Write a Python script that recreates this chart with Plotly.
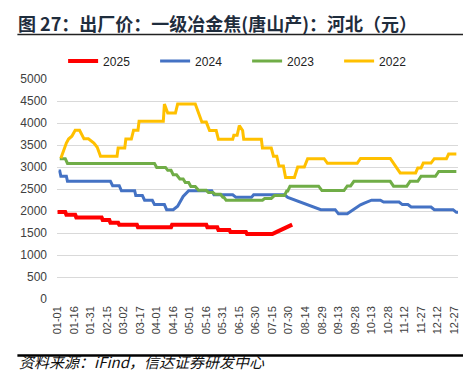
import plotly.graph_objects as go

# ---------------- data (day-of-year index, price in yuan) ----------------
tick_labels = ["01-01", "01-16", "01-31", "02-15", "03-02", "03-17", "04-01", "04-16",
               "05-01", "05-16", "05-31", "06-15", "06-30", "07-15", "07-30", "08-14",
               "08-29", "09-13", "09-28", "10-13", "10-28", "11-12", "11-27", "12-12", "12-27"]
tick_days = [0, 15, 30, 45, 60, 75, 90, 105, 120, 135, 150, 165, 180, 195, 210, 225,
             240, 255, 270, 285, 300, 315, 330, 345, 360]

pts_2025 = [(0, 1975), (7, 1975), (8, 1915), (16, 1915), (17, 1855), (40, 1855), (41, 1795),
            (47, 1795), (48, 1735), (55, 1735), (56, 1690), (72, 1690), (73, 1630), (103, 1630),
            (104, 1690), (135, 1690), (136, 1630), (145, 1630), (146, 1570), (156, 1570),
            (157, 1520), (171, 1520), (172, 1475), (195, 1475), (199, 1525), (203, 1575),
            (207, 1630), (211, 1690), (213, 1690)]

pts_2024 = [(1, 2910), (2, 2910), (3, 2790), (8, 2790), (9, 2675), (48, 2675), (50, 2575),
            (56, 2575), (58, 2460), (70, 2460), (71, 2350), (77, 2350), (79, 2245), (86, 2245),
            (88, 2145), (97, 2145), (99, 2030), (105, 2030), (109, 2110), (114, 2330),
            (119, 2460), (140, 2460), (142, 2370), (159, 2370), (162, 2310), (176, 2310),
            (178, 2370), (206, 2370), (209, 2310), (215, 2255), (222, 2180), (231, 2105),
            (239, 2030), (252, 2030), (255, 1935), (263, 1935), (266, 1990), (271, 2070),
            (275, 2140), (279, 2185), (285, 2245), (293, 2245), (296, 2205), (310, 2205),
            (313, 2145), (318, 2145), (321, 2090), (339, 2090), (342, 2030), (359, 2030),
            (362, 1970), (364, 1970)]

pts_2023 = [(2, 3190), (7, 3190), (9, 3080), (88, 3080), (90, 2990), (98, 2990), (100, 2925),
            (103, 2925), (105, 2825), (108, 2825), (111, 2730), (114, 2730), (116, 2645),
            (119, 2645), (121, 2555), (125, 2555), (128, 2470), (135, 2470), (137, 2420),
            (141, 2420), (143, 2380), (148, 2380), (150, 2310), (151, 2310), (153, 2245),
            (186, 2245), (188, 2285), (194, 2285), (197, 2355), (206, 2355), (208, 2455),
            (209, 2455), (211, 2565), (237, 2565), (240, 2465), (260, 2465), (263, 2570),
            (266, 2570), (269, 2675), (302, 2675), (305, 2565), (317, 2565), (320, 2675),
            (327, 2675), (330, 2790), (343, 2790), (346, 2900), (362, 2900)]

pts_2022 = [(3, 3200), (6, 3430), (8, 3545), (10, 3635), (13, 3700), (16, 3835), (20, 3835),
            (24, 3640), (28, 3640), (33, 3545), (36, 3450), (39, 3245), (54, 3245), (55, 3430),
            (61, 3430), (62, 3635), (67, 3635), (69, 3835), (73, 3835), (74, 4040), (96, 4040),
            (97, 4430), (100, 4225), (107, 4225), (109, 4430), (125, 4430), (128, 4225),
            (131, 4020), (135, 4020), (138, 3830), (144, 3830), (146, 3630), (159, 3630),
            (160, 3720), (163, 3720), (165, 3940), (168, 3830), (169, 3630), (185, 3630),
            (186, 3430), (194, 3430), (196, 3245), (199, 3245), (201, 3020), (205, 3020),
            (207, 2760), (215, 2760), (218, 3000), (224, 3000), (227, 3190), (242, 3190),
            (245, 3085), (272, 3085), (275, 3195), (302, 3195), (305, 3090), (308, 2980),
            (311, 2865), (325, 2865), (327, 2980), (330, 2980), (332, 3090), (339, 3090),
            (342, 3190), (353, 3190), (355, 3295), (362, 3295)]

series_names = ["2025", "2024", "2023", "2022"]
series_pts = [pts_2025, pts_2024, pts_2023, pts_2022]
series_colors = ["#FF0000", "#4472C4", "#70AD47", "#FFC000"]
series_widths = [4, 3, 3, 3]

# ---------------- layout helpers (pixel -> paper) ----------------
W, H = 471, 373
PL, PR, PT, PB = 45, 450, 71, 291


def px_x(px):
    return (px - PL) / (PR - PL)


def px_y(py):
    return (PB - py) / (PB - PT)


fig = go.Figure()
for name, pts, col, wd in zip(series_names, series_pts, series_colors, series_widths):
    fig.add_trace(go.Scatter(
        x=[p[0] for p in pts], y=[p[1] for p in pts], mode="lines", name=name,
        line=dict(color=col, width=wd), hoverinfo="skip"))

fig.update_layout(
    width=W, height=H,
    margin=dict(l=PL, r=W - PR, t=PT, b=H - PB, pad=0),
    paper_bgcolor="white", plot_bgcolor="white",
    font=dict(family="Liberation Sans, Arial, sans-serif", color="#404040"),
    showlegend=True,
    legend=dict(orientation="h", x=px_x(237), xanchor="center", y=px_y(53), yanchor="middle",
                font=dict(size=12, color="#222222"), bgcolor="rgba(0,0,0,0)",
                entrywidth=47, entrywidthmode="pixels", itemwidth=30),
    xaxis=dict(range=[-0.5, 363.5], tickmode="array", tickvals=tick_days, ticktext=tick_labels,
               tickangle=-90, tickfont=dict(size=11, color="#404040"), showgrid=False,
               zeroline=False, showline=False, ticks="", ticklabelstandoff=4, fixedrange=True),
    yaxis=dict(range=[0, 5000], dtick=500, tick0=0, gridcolor="#D9D9D9", gridwidth=1,
               zeroline=False, showline=False, ticks="", tickfont=dict(size=12, color="#404040"),
               ticklabelstandoff=9, fixedrange=True),
    annotations=[
        dict(text="<b>图 27：出厂价：一级冶金焦(唐山产)：河北（元）</b>", xref="paper", yref="paper",
             x=px_x(4), y=px_y(0), xanchor="left", yanchor="top", showarrow=False,
             font=dict(family="Noto Sans CJK SC", size=18, color="#1F2D3D")),
        dict(text="<i>资料来源：iFind，信达证券研发中心</i>", xref="paper", yref="paper",
             x=px_x(5), y=px_y(353), xanchor="left", yanchor="middle", showarrow=False,
             font=dict(family="Noto Sans CJK SC", size=15, color="#111111")),
    ],
    shapes=[
        dict(type="line", xref="paper", yref="paper", x0=px_x(5), x1=px_x(466),
             y0=px_y(26.5), y1=px_y(26.5), line=dict(color="#222222", width=1.5)),
        dict(type="line", xref="paper", yref="paper", x0=px_x(5), x1=px_x(466),
             y0=px_y(347.5), y1=px_y(347.5), line=dict(color="#000000", width=2.5)),
    ],
)

fig.write_html("out.html")
